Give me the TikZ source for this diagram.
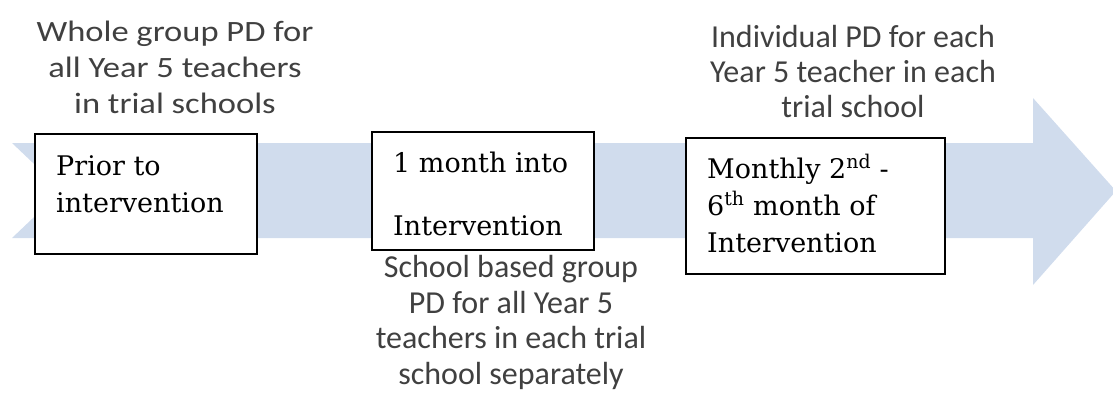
\documentclass[tikz,border=0pt]{standalone}
\usepackage{fontspec}
\newfontfamily\calfont{Carlito}
\newfontfamily\widecalfont{Carlito}[FakeStretch=1.17]
\newfontfamily\boxfont{DejaVu Serif}
\definecolor{arrowblue}{RGB}{208,220,237}
\definecolor{notegray}{RGB}{64,64,64}

\tikzset{
  stagebox/.style={draw,line width=1.5pt,fill=white,anchor=north west,inner sep=0pt},
  stagetext/.style={anchor=base west,align=left,inner sep=0pt,
    font=\boxfont\fontsize{27}{37}\selectfont},
  pdnote/.style={anchor=base,align=center,inner sep=0pt,text=notegray,
    font=\calfont\fontsize{32}{36}\selectfont}
}

\begin{document}
\begin{tikzpicture}[x=1pt,y=-1pt]
\useasboundingbox (0,0) rectangle (1113,392);

% big arrow in the back (timeline)
\fill [arrowblue] (12,143) -- (1033,143) -- (1033,98) -- (1116,191)
  -- (1033,285) -- (1033,238) -- (12,238) -- (62,190.5) -- cycle;

% the three stages
\node [stagebox,minimum width=222pt,minimum height=120pt] (prior) at (34,133) {};
\node [stagebox,minimum width=222pt,minimum height=118pt] (first) at (371,131) {};
\node [stagebox,minimum width=259pt,minimum height=136pt] (monthly) at (685,137) {};

% text sits on the baseline of its last line
\node [stagetext] (priortext) at (56,212) {Prior to\\intervention};
\node [stagetext] (firsttext) at (393,235) {1 month into\\[26pt]Intervention};
\node [stagetext] (monthlytext) at (707,252)
  {Monthly 2\textsuperscript{nd} -\\6\textsuperscript{th} month of\\Intervention};

% what PD goes with each stage
\node [pdnote,font=\widecalfont\fontsize{29.5}{36}\selectfont] (wholepd) at (175,113)
  {Whole group PD for\\all Year 5 teachers\\in trial schools};
\node [pdnote,font=\calfont\fontsize{32}{35.5}\selectfont] (schoolpd) at (511,384)
  {School based group\\PD for all Year 5\\teachers in each trial\\school separately};
\node [pdnote,font=\calfont\fontsize{32}{35}\selectfont] (indivpd) at (853,117)
  {Individual PD for each\\Year 5 teacher in each\\trial school};

\end{tikzpicture}
\end{document}
